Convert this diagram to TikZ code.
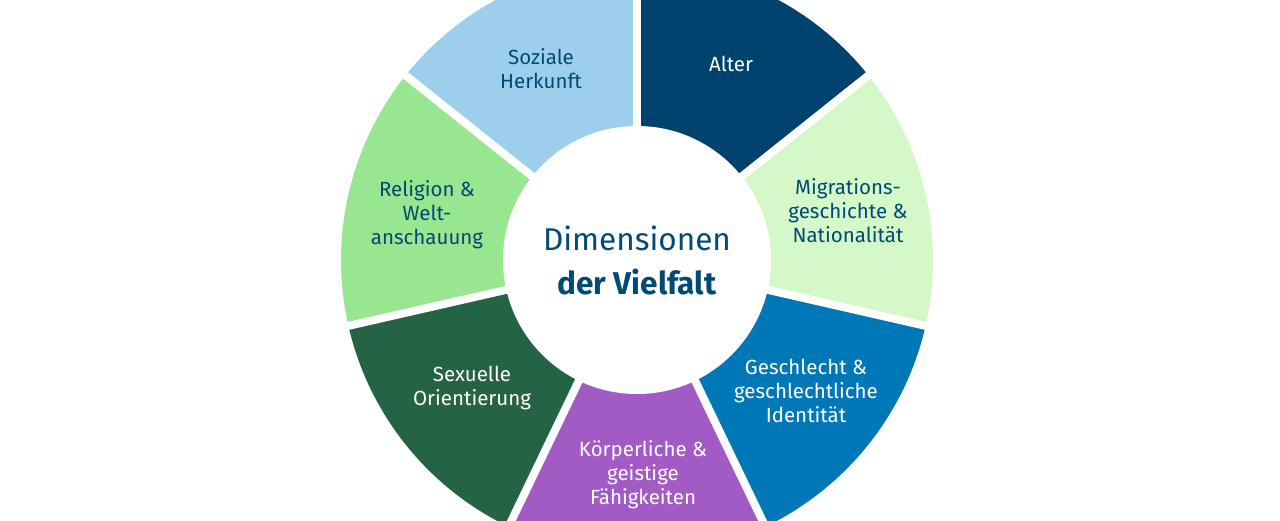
\documentclass[tikz,border=0pt]{standalone}
\usepackage{fontspec}
\setmainfont{Fira Sans}
\definecolor{txtnavy}{HTML}{004A75}
\definecolor{cA}{HTML}{00426E}
\definecolor{cB}{HTML}{D4F8C8}
\definecolor{cC}{HTML}{0077B6}
\definecolor{cD}{HTML}{A25BC4}
\definecolor{cE}{HTML}{256345}
\definecolor{cF}{HTML}{98E68F}
\definecolor{cG}{HTML}{9DCFEC}
\tikzset{lbl/.style={align=center,font=\fontsize{20.5}{24}\selectfont}}
\begin{document}
\begin{tikzpicture}[x=1pt,y=-1pt]
\useasboundingbox (0,0) rectangle (1280,520);
\fill[white] (0,0) rectangle (1280,520);
\begin{scope}
\clip (0,0) rectangle (1280,520);
\coordinate (c) at (637,260);
\foreach \k/\col in {0/cA,1/cB,2/cC,3/cD,4/cE,5/cF,6/cG}{
  \pgfmathsetmacro{\aa}{90-51.4286*\k}
  \pgfmathsetmacro{\ab}{90-51.4286*(\k+1)}
  \fill[\col] (c) -- ({637+296*cos(\aa)},{260-296*sin(\aa)}) arc[start angle={-\aa}, end angle={-\ab}, radius=296] -- cycle;
}
\foreach \k in {0,...,6}{
  \pgfmathsetmacro{\aa}{90-51.4286*\k}
  \draw[white,line width=8pt] (c) -- ({637+320*cos(\aa)},{260-320*sin(\aa)});
}
\fill[white] (c) circle (134);
\end{scope}
\node[lbl,text=white] (a) at (731,64) {Alter};
\node[lbl,text=txtnavy] (b) at (848,211) {Migrations-\\geschichte \&\\Nationalität};
\node[lbl,text=white] (g) at (806,391) {Geschlecht \&\\geschlechtliche\\Identität};
\node[lbl,text=white] (k) at (643,475) {Körperliche \&\\geistige\\Fähigkeiten};
\node[lbl,text=white] (s) at (472,388) {Sexuelle\\Orientierung};
\node[lbl,text=txtnavy] (r) at (427,215) {Religion \&\\Welt-\\anschauung};
\node[lbl,text=txtnavy] (z) at (541,69) {Soziale\\Herkunft};
\node[align=center,text=txtnavy,font=\fontsize{31.5}{44}\selectfont] (m) at (637,260) {Dimensionen\\\textbf{der Vielfalt}};
\end{tikzpicture}
\end{document}
